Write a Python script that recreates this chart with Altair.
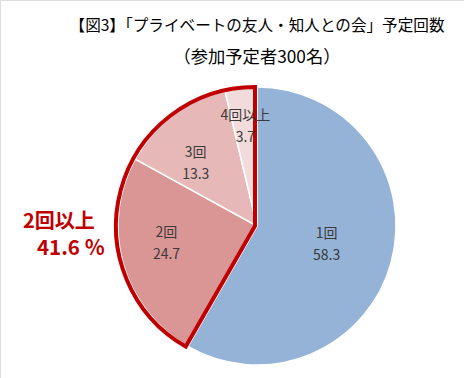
import altair as alt
import pandas as pd

categories = ["1回", "2回", "3回", "4回以上"]
values = [58.3, 24.7, 13.3, 3.7]
colors = ["#95B3D7", "#DA9694", "#E6B9B8", "#F2DCDB"]
title_lines = ["【図3】「プライベートの友人・知人との会」予定回数", "（参加予定者300名）"]
callout_lines = ["2回以上", "41.6 ％"]

FONT = "Noto Sans CJK JP"
CX, CY, R = 257, 226, 139

df = pd.DataFrame({"cat": categories, "val": values, "idx": list(range(len(categories)))})

base = alt.Chart(df).transform_window(
    cum="sum(val)", sort=[alt.SortField("idx")], frame=[None, 0]
).transform_calculate(
    start="datum.cum - datum.val",
    mid="datum.cum - datum.val / 2",
    label="datum.cat + '\\n' + format(datum.val, '.1f')",
)

tscale = alt.Scale(domain=[0, 100])
color = alt.Color("cat:N", scale=alt.Scale(domain=categories, range=colors), legend=None)

pie = base.mark_arc(radius=R, stroke="white", strokeWidth=1.5).encode(
    x=alt.value(CX), y=alt.value(CY),
    theta=alt.Theta("start:Q", scale=tscale, stack=None),
    theta2="cum:Q",
    color=color,
    order=alt.Order("idx:Q"),
)

outline = base.transform_filter("datum.idx >= 1").transform_aggregate(
    s="min(start)", e="max(cum)"
).mark_arc(radius=R, fillOpacity=0, fill="white", stroke="#C00000", strokeWidth=4, strokeJoin="miter").encode(
    x=alt.value(CX - 2), y=alt.value(CY),
    theta=alt.Theta("s:Q", scale=tscale, stack=None),
    theta2="e:Q",
)

def labels(i, r, dx=0, dy=-11):
    return base.transform_filter(f"datum.idx == {i}").mark_text(
        radius=r, lineBreak="\n", lineHeight=22, fontSize=14, font=FONT,
        color="#3a3a3a", align="center", baseline="middle", dx=dx, dy=dy,
    ).encode(
        x=alt.value(CX), y=alt.value(CY),
        theta=alt.Theta("mid:Q", scale=tscale, stack=None),
        text="label:N",
    )

lab_layers = [labels(0, 72), labels(1, 94, 0, -18), labels(2, 88, -8, -3), labels(3, 100)]

t1 = alt.Chart(pd.DataFrame({"t": [title_lines[0]]})).mark_text(
    fontSize=15.6, font=FONT, color="#000000", align="center", baseline="middle"
).encode(x=alt.value(257), y=alt.value(26), text="t:N")
t2 = alt.Chart(pd.DataFrame({"t": [title_lines[1]]})).mark_text(
    fontSize=17.3, font=FONT, color="#000000", align="center", baseline="middle"
).encode(x=alt.value(257), y=alt.value(58), text="t:N")

c1 = alt.Chart(pd.DataFrame({"t": [callout_lines[0]]})).mark_text(
    fontSize=20, font=FONT, fontWeight="bold", color="#C00000", align="left", baseline="middle"
).encode(x=alt.value(23), y=alt.value(222), text="t:N")
c2 = alt.Chart(pd.DataFrame({"t": [callout_lines[1]]})).mark_text(
    fontSize=20.5, font=FONT, fontWeight="bold", color="#C00000", align="left", baseline="middle"
).encode(x=alt.value(37), y=alt.value(249), text="t:N")

chart = alt.layer(pie, outline, *lab_layers, t1, t2, c1, c2).properties(
    width=464, height=378, padding=0, autosize=alt.AutoSizeParams(type="none")
).configure_view(stroke=None).configure(background="white")

chart.save("out.html", embed_options={"renderer": "svg", "actions": False})
